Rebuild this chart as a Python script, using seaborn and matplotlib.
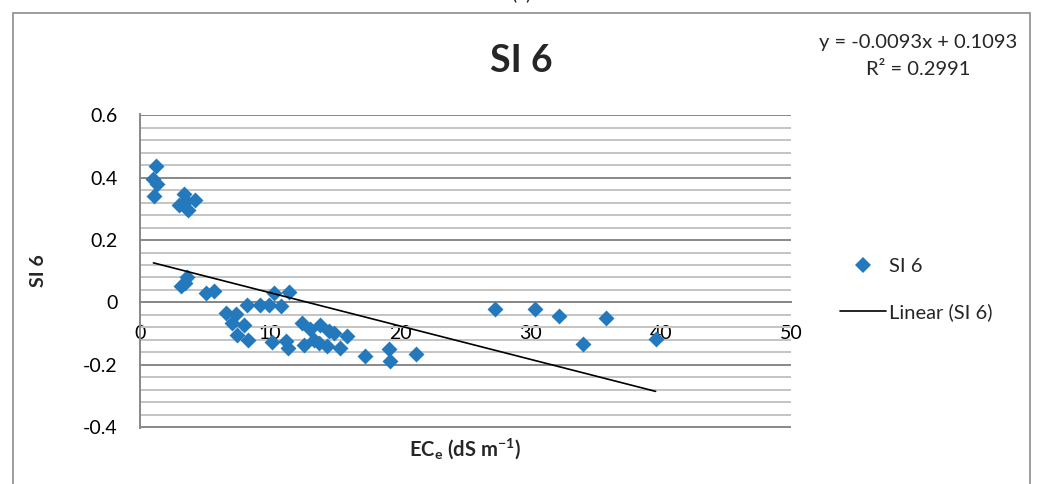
import numpy as np
import pandas as pd
import matplotlib
matplotlib.use("Agg")
import matplotlib.pyplot as plt
import seaborn as sns
from matplotlib.patches import Rectangle
from matplotlib.lines import Line2D
from matplotlib.ticker import MultipleLocator, FixedLocator, FixedFormatter

# ---- data ----
ece = [1.23, 1.03, 1.28, 1.10, 3.41, 3.03, 4.23, 3.72, 3.55,
       3.59, 3.13, 3.46, 5.05, 5.70,
       6.60, 7.40, 7.05, 7.95, 7.44, 8.33,
       8.20, 9.23, 9.87, 10.80, 10.26, 11.41,
       10.13, 11.23, 11.33,
       12.44, 13.08, 12.56, 13.33, 13.85, 13.72, 14.49, 14.36, 14.87, 15.38, 15.90,
       17.30, 19.10, 19.23, 21.23,
       27.30, 30.33, 32.18, 34.00, 35.82, 39.60]
si6 = [0.437, 0.395, 0.381, 0.342, 0.349, 0.313, 0.328, 0.295, 0.325,
       0.080, 0.052, 0.062, 0.030, 0.036,
       -0.034, -0.036, -0.065, -0.072, -0.105, -0.120,
       -0.007, -0.008, -0.008, -0.010, 0.029, 0.032,
       -0.128, -0.125, -0.145,
       -0.065, -0.086, -0.138, -0.120, -0.072, -0.130, -0.093, -0.140, -0.098, -0.145, -0.108,
       -0.171, -0.148, -0.189, -0.164,
       -0.022, -0.022, -0.045, -0.132, -0.051, -0.118]

x_ticks = [0, 10, 20, 30, 40, 50]
x_tick_labels = ["0", "10", "20", "30", "40", "50"]
y_ticks = [-0.4, -0.2, 0.0, 0.2, 0.4, 0.6]
y_tick_labels = ["-0.4", "-0.2", "0", "0.2", "0.4", "0.6"]

title_text = "SI 6"
series_name = "SI 6"
trend_name = "Linear (SI 6)"
eq_text = "y = -0.0093x + 0.1093"
r2_text = "R\u00b2 = 0.2991"
panel_text = "(a)"

BLUE = "#2479BD"
MAJOR_GRID = "#888888"
MINOR_GRID = "#C4C4C4"

sns.set_style("white")
plt.rcParams["font.family"] = ["Lato", "DejaVu Sans"]
plt.rcParams["mathtext.fontset"] = "custom"
plt.rcParams["mathtext.rm"] = "Lato"
plt.rcParams["mathtext.bf"] = "Lato:bold"
plt.rcParams["mathtext.it"] = "Lato:italic"

W, H = 1041, 484
fig = plt.figure(figsize=(W / 100, H / 100), dpi=100)
ax = fig.add_axes([140 / W, 1 - 428 / H, (791 - 140) / W, (428 - 114.5) / H])

df = pd.DataFrame({"ECe": ece, "SI6": si6})
sns.scatterplot(data=df, x="ECe", y="SI6", marker="D", s=66, color=BLUE,
                edgecolor=BLUE, linewidth=0, ax=ax, zorder=3, legend=False)

coef = np.polyfit(df["ECe"], df["SI6"], 1)
xs = np.array([df["ECe"].min(), df["ECe"].max()])
fit = pd.DataFrame({"x": xs, "y": np.polyval(coef, xs)})
sns.lineplot(data=fit, x="x", y="y", color="black", linewidth=1.2, ax=ax, zorder=4)

eps = 0.003
ax.set_xlim(0, 50)
ax.set_ylim(-0.4 - eps, 0.6 + eps)
ax.xaxis.set_major_locator(FixedLocator(x_ticks))
ax.xaxis.set_major_formatter(FixedFormatter(x_tick_labels))
ax.yaxis.set_major_locator(FixedLocator(y_ticks))
ax.yaxis.set_major_formatter(FixedFormatter(y_tick_labels))
ax.yaxis.set_minor_locator(MultipleLocator(0.04))

ax.grid(False)
ax.grid(which="major", axis="y", color=MAJOR_GRID, linewidth=1.4, zorder=0)
ax.grid(which="minor", axis="y", color=MINOR_GRID, linewidth=1.4, zorder=0)
ax.set_axisbelow(True)

for s in ["top", "right"]:
    ax.spines[s].set_visible(False)
ax.spines["left"].set_color(MAJOR_GRID)
ax.spines["left"].set_linewidth(1.4)
ax.spines["bottom"].set_position(("data", 0))
ax.spines["bottom"].set_color(MAJOR_GRID)
ax.spines["bottom"].set_linewidth(1.4)

ax.tick_params(axis="both", which="major", direction="out", length=5, width=1.2,
               color=MAJOR_GRID, pad=11, labelsize=14, labelcolor="black")
ax.tick_params(axis="y", which="minor", length=0)
ax.set_xlabel("")
ax.set_ylabel("")

# titles and labels
fig.text(521 / W, 1 - 72 / H, title_text, fontsize=27, fontweight="bold",
         ha="center", va="baseline")
fig.text(521 / W, 1 + 1 / H, panel_text, fontsize=14, ha="center", va="baseline")
fig.text(465 / W, 1 - 456 / H, r"$\mathbf{EC_e\ (dS\ m^{-1})}$", fontsize=14.5,
         ha="center", va="baseline")
fig.text(39 / W, 1 - 271 / H, series_name, fontsize=14, fontweight="bold",
         rotation=90, ha="center", va="center")
fig.text(918 / W, 1 - 48 / H, eq_text, fontsize=14.5, ha="center", va="baseline")
fig.text(918 / W, 1 - 75 / H, r2_text, fontsize=14.5, ha="center", va="baseline")

# legend
h_pts = Line2D([], [], linestyle="none", marker="D", markersize=8.1,
               markerfacecolor=BLUE, markeredgecolor=BLUE, markeredgewidth=0)
h_line = Line2D([], [], color="black", linewidth=1.2)
ax.legend([h_pts, h_line], [series_name, trend_name], loc="center left",
          bbox_to_anchor=(840 / W, 1 - 289.5 / H), bbox_transform=fig.transFigure,
          frameon=False, fontsize=14.5, handlelength=2.3, handletextpad=0.15,
          labelspacing=1.4, borderpad=0, borderaxespad=0)

# outer chart frame
fig.add_artist(Rectangle((13 / W, -0.1), (1030 - 13) / W, 1 - 13 / H + 0.1,
                         transform=fig.transFigure, fill=False,
                         edgecolor="#8C8C8C", linewidth=1.2))

fig.savefig("out.png", dpi=100)
